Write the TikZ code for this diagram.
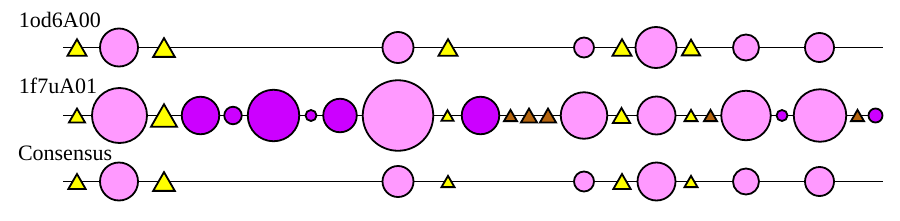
\documentclass[tikz,border=0pt]{standalone}
\usepackage{fontspec}
\setmainfont{Liberation Serif}
\usepackage{tikz}
\usetikzlibrary{shapes.geometric}
\definecolor{helix}{RGB}{255,153,255}
\definecolor{strand}{RGB}{204,0,255}
\definecolor{loopy}{RGB}{255,255,0}
\definecolor{turn}{RGB}{180,100,15}
\tikzset{ss/.style={circle, fill=helix, minimum size=#1},
  sb/.style={circle, fill=strand, minimum size=#1},
  ty/.style={regular polygon, regular polygon sides=3, fill=loopy,
    minimum size=#1, yshift=-#1/8},
  tb/.style={ty=#1, fill=turn},
  lbl/.style={draw=none, fill=none, minimum size=0pt, inner sep=0pt,
    anchor=base west, font=\fontsize{22}{24}\selectfont}}

\begin{document}
\begin{tikzpicture}[x=1pt, y=-1pt, line width=1.8pt,
  every node/.style={draw, inner sep=0pt, outer sep=0pt}]
  \useasboundingbox (0,0) rectangle (900,220);
  % row labels
  \node[lbl] (la) at (19,27)  {1od6A00};
  \node[lbl] (lb) at (19,93)  {1f7uA01};
  \node[lbl] (lc) at (18,160) {Consensus};
  % backbones
  \coordinate (a0) at (63,47.5);  \coordinate (aE) at (883,47.5);
  \coordinate (b0) at (63,115.5); \coordinate (bE) at (883,115.5);
  \coordinate (c0) at (63,181.5); \coordinate (cE) at (883,181.5);
  \draw (a0) -- (aE);
  \draw (b0) -- (bE);
  \draw (c0) -- (cE);
  % 1od6A00
  \node[ty=22]  (a1)  at (77,47.5)  {};
  \node[ss=38]  (a2)  at (119,47.5) {};
  \node[ty=25]  (a3)  at (164,47.5) {};
  \node[ss=31]  (a4)  at (398,47.5) {};
  \node[ty=22]  (a5)  at (448,47.5) {};
  \node[ss=20]  (a6)  at (584,47.5) {};
  \node[ty=22]  (a7)  at (622,47.5) {};
  \node[ss=41]  (a8)  at (656,47.5) {};
  \node[ty=21]  (a9)  at (691,47.5) {};
  \node[ss=26]  (a10) at (746,47.5) {};
  \node[ss=29]  (a11) at (819.5,47.5) {};
  % 1f7uA01
  \node[ty=18.5] (b1)  at (77,115.5)  {};
  \node[ss=55]   (b2)  at (119.5,115.5) {};
  \node[ty=30]   (b3)  at (164,115.5) {};
  \node[sb=37.5] (b4)  at (200.5,115.5) {};
  \node[sb=17.5] (b5)  at (233,115.5) {};
  \node[sb=51.5] (b6)  at (273.5,115.5) {};
  \node[sb=11]   (b7)  at (311,115.5) {};
  \node[sb=33.5] (b8)  at (340,115.5) {};
  \node[ss=70.5] (b9)  at (398,115.5) {};
  \node[ty=14]   (b10) at (447.5,115.5) {};
  \node[sb=37.5] (b11) at (480.5,115.5) {};
  \node[tb=15]   (b12) at (510.5,115.5) {};
  \node[tb=18.5] (b13) at (529,115.5) {};
  \node[tb=18.5] (b14) at (548,115.5) {};
  \node[ss=46.5] (b15) at (584,115.5) {};
  \node[ty=20]   (b16) at (621.5,115.5) {};
  \node[ss=38]   (b17) at (656.5,115.5) {};
  \node[ty=15]   (b18) at (691,115.5) {};
  \node[tb=15]   (b19) at (710.5,115.5) {};
  \node[ss=49.5] (b20) at (746,115.5) {};
  \node[sb=11]   (b21) at (782,115.5) {};
  \node[ss=52.5] (b22) at (820,115.5) {};
  \node[tb=15]   (b23) at (857.5,115.5) {};
  \node[sb=14]   (b24) at (875.5,115.5) {};
  % Consensus
  \node[ty=20]  (c1)  at (77,181.5)  {};
  \node[ss=38]  (c2)  at (119,181.5) {};
  \node[ty=25]  (c3)  at (164,181.5) {};
  \node[ss=31]  (c4)  at (398,181.5) {};
  \node[ty=15]  (c5)  at (448,181.5) {};
  \node[ss=20]  (c6)  at (584,181.5) {};
  \node[ty=20]  (c7)  at (622,181.5) {};
  \node[ss=38]  (c8)  at (656.5,181.5) {};
  \node[ty=15]  (c9)  at (691,181.5) {};
  \node[ss=26]  (c10) at (746,181.5) {};
  \node[ss=29]  (c11) at (819.5,181.5) {};
\end{tikzpicture}
\end{document}
